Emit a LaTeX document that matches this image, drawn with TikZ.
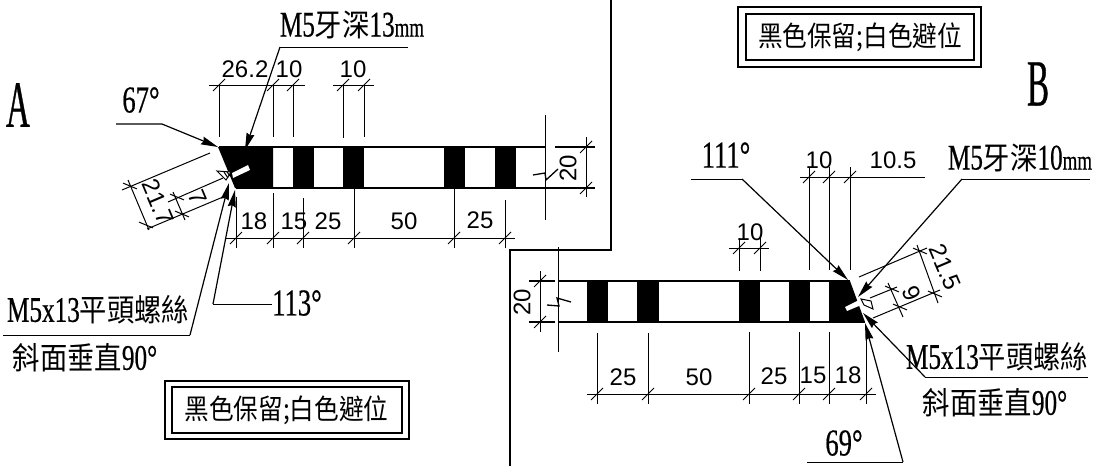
\documentclass[tikz,border=0pt]{standalone}
\usepackage{fontspec}
\usetikzlibrary{arrows.meta}
\setmainfont{Liberation Sans}
\newfontfamily\nar{Liberation Serif}[FakeStretch=0.7,FakeBold=0.5]
\newfontfamily\wide{Liberation Serif}[FakeStretch=0.5,FakeBold=0.5]
\newfontfamily\cj{Noto Sans CJK TC}[FakeStretch=0.88]
\newcommand\fs[1]{\fontsize{#1}{#1}\selectfont}
\newcommand\lab[1]{{\fs{36}\nar #1}}
\newcommand\han[1]{{\fs{31}\cj #1}}
\tikzset{
 ln/.style={line width=1pt,line cap=butt},
 thk/.style={line width=1.3pt},
 zig/.style={line width=1.3pt,line join=miter},
 lead/.style={line width=1.2pt,-{Stealth[length=17pt,width=8pt,inset=1.5pt]}},
 dimtxt/.style={inner sep=0pt,font=\fs{24}},
 big/.style={inner sep=0pt,font=\fs{38}\nar},
}
\newcommand\tk[2]{\draw[ln] (#1-6,#2+6) -- (#1+6,#2-6);}
\newcommand\rk[2]{\draw[ln] (#1-7,#2-2.9) -- (#1+7,#2+2.9);}
\begin{document}
\begin{tikzpicture}[x=1pt,y=-1pt]
\useasboundingbox (0,0) rectangle (1097,466);
% frame
\draw[thk] (611,0) -- (611,250) -- (510,250) -- (510,466);
% ---------- A bar
\draw[thk] (219,147) -- (545,147);
\draw[thk] (236,188) -- (595,188);
\draw[thk] (555,147) -- (595,147);
\fill (218,147) -- (273,147) -- (273,188) -- (235,188) -- cycle;
\foreach \a/\b in {293/314,343/364,444/465,495/516}{\fill (\a,146.5) rectangle (\b,188.5);}
% screw A
\fill[white] (232,173) -- (248,165) -- (250,170) -- (233,178) -- cycle;
\draw[line width=1pt,fill=white] (217,171) -- (231,172) -- (226,180) -- cycle;
\draw[line width=1pt] (224,172) -- (228,178) (227,172) -- (230,176);
% break A
\draw[ln] (545,115) -- (545,220);
\draw[zig] (533,175) -- (545,173) -- (546,180) -- (558,169);
% A extension lines
\foreach \x/\a/\b in {219/85/137,273/85/137,293/85/137,343/85/138,364/85/137}{\draw[ln] (\x,\a) -- (\x,\b);}
\foreach \x/\a/\b in {236/197/248,273/193/248,303/198/248,354/189/248,454/189/248,505/200/248}{\draw[ln] (\x,\a) -- (\x,\b);}
\draw[ln] (209,85) -- (305,85);
\draw[ln] (333,85) -- (374,85);
\draw[ln] (226,238) -- (515,238);
\draw[ln] (586,137) -- (586,197);
\foreach \x in {219,273,293,343,364}{\tk{\x}{85}}
\foreach \x in {236,273,303,354,454,505}{\tk{\x}{238}}
\tk{586}{147}\tk{586}{188}
% A slanted dims
\draw[ln] (210,153) -- (122,190);
\draw[ln] (223,178) -- (168,202);
\draw[ln] (223,197) -- (147,229);
\draw[ln] (128,180) -- (149,230);
\draw[ln] (173,192) -- (185,220);
\rk{130}{186}\rk{146}{225}\rk{177}{197}\rk{182}{214}
% A leaders
\draw[lead] (116,124) -- (162,124) -- (218,147);
\draw[ln] (408,47) -- (280,47);
\draw[lead] (280,47) -- (245,150);
\draw[ln] (3,335) -- (190,335);
\draw[lead] (190,335) -- (229,183);
\draw[ln] (272,304) -- (213,304);
\draw[lead] (213,304) -- (235,190);
% A text
\node[big,font=\fs{66}\wide] (la) at (18,105) {A};
\node[big] (a67) at (141,100) {67°};
\node[big] (a113) at (297,303) {113°};
\node[inner sep=0pt] (am5) at (352,25) {\lab{M5}\han{牙深}\lab{13}{\fs{27}\nar mm}};
\node[inner sep=0pt] (ascrew) at (98,310) {\lab{M5x13}\han{平頭螺絲}};
\node[inner sep=0pt] (aslant) at (85,358) {\han{斜面垂直}\lab{90°}};
\node[dimtxt] (d1) at (245,69) {26.2};
\node[dimtxt] (d2) at (289,69) {10};
\node[dimtxt] (d3) at (353,69) {10};
\node[dimtxt] (d4) at (254,221) {18};
\node[dimtxt] (d5) at (294,221) {15};
\node[dimtxt] (d6) at (328,221) {25};
\node[dimtxt] (d7) at (404,221) {50};
\node[dimtxt] (d8) at (480,220) {25};
\node[dimtxt,rotate=90] (d9) at (568,168) {20};
\node[dimtxt,rotate=-67] (d10) at (158,202) {21.7};
\node[dimtxt,rotate=-67] (d11) at (198,197) {7};
% boxes
\draw[thk] (165,381) rectangle (409,439);
\draw[thk] (172,387) rectangle (402,433);
\node[inner sep=0pt] (boxa) at (286.5,410) {{\fs{28}\cj 黑色保留;白色避位}};
\draw[thk] (738,7) rectangle (981,67);
\draw[thk] (746,14) rectangle (974,60);
\node[inner sep=0pt] (boxb) at (860,37) {{\fs{28}\cj 黑色保留;白色避位}};
% ---------- B bar
\draw[thk] (529,281) -- (555,281) (558,281) -- (850,281);
\draw[thk] (529,322) -- (555,322) (558,322) -- (865,322);
\fill (829,281) -- (850,281) -- (865,322) -- (829,322) -- cycle;
\foreach \a/\b in {587/608,637/659,739/760,789/810}{\fill (\a,280.5) rectangle (\b,322.5);}
\fill[white] (845,307) -- (863,298) -- (866,303) -- (847,311) -- cycle;
\draw[line width=1pt,fill=white] (861,299) -- (871,301) -- (873,309) -- (864,305) -- cycle;
% break B
\draw[ln] (558,247) -- (558,352);
\draw[zig] (547,305) -- (559,306) -- (557,298) -- (571,302);
% B extensions
\foreach \x/\a/\b in {739/238/271,760/238/271,809/167/270,829/167/270,850/167/270}{\draw[ln] (\x,\a) -- (\x,\b);}
\foreach \x/\a/\b in {597/333/404,648/333/404,749/332/404,799/332/404,829/332/404,866/332/404}{\draw[ln] (\x,\a) -- (\x,\b);}
\draw[ln] (729,248) -- (769,248);
\draw[ln] (800,177) -- (925,177);
\draw[ln] (587,394) -- (876,394);
\draw[ln] (540,271) -- (540,332);
\foreach \x in {739,760}{\tk{\x}{248}}
\foreach \x in {809,829,850}{\tk{\x}{177}}
\foreach \x in {597,648,749,799,829,866}{\tk{\x}{394}}
\tk{540}{281}\tk{540}{322}
% B slanted dims
\draw[ln] (859,277) -- (927,248);
\draw[ln] (870,298) -- (897,287);
\draw[ln] (873,318) -- (940,290);
\draw[ln] (917,245) -- (938,303);
\draw[ln] (888,283) -- (903,317);
\rk{920}{251}\rk{935}{294}\rk{892}{289}\rk{900}{307}
% B leaders
\draw[ln] (691,179) -- (742,179);
\draw[lead] (742,179) -- (848,280);
\draw[ln] (1090,179) -- (962,179);
\draw[lead] (962,179) -- (858,297);
\draw[ln] (1088,377) -- (925,377);
\draw[lead] (925,377) -- (863,313);
\draw[ln] (807,462) -- (903,462);
\draw[lead] (903,462) -- (865,323);
% B text
\node[big,font=\fs{66}\wide] (lb) at (1038,84) {B};
\node[big] (b111) at (726,155) {111°};
\node[big] (b69) at (844,443) {69°};
\node[inner sep=0pt] (bm5) at (1020,158) {\lab{M5}\han{牙深}\lab{10}{\fs{27}\nar mm}};
\node[inner sep=0pt] (bscrew) at (997,357) {\lab{M5x13}\han{平頭螺絲}};
\node[inner sep=0pt] (bslant) at (995,403) {\han{斜面垂直}\lab{90°}};
\node[dimtxt] (e1) at (750,232) {10};
\node[dimtxt] (e2) at (819,160) {10};
\node[dimtxt] (e3) at (893,160) {10.5};
\node[dimtxt] (e4) at (623,377) {25};
\node[dimtxt] (e5) at (699,377) {50};
\node[dimtxt] (e6) at (774,376) {25};
\node[dimtxt] (e7) at (813,375) {15};
\node[dimtxt] (e8) at (848,375) {18};
\node[dimtxt,rotate=90] (e9) at (522,302) {20};
\node[dimtxt,rotate=-67] (e10) at (945,267) {21.5};
\node[dimtxt,rotate=-67] (e11) at (912,293) {9};
\end{tikzpicture}
\end{document}
